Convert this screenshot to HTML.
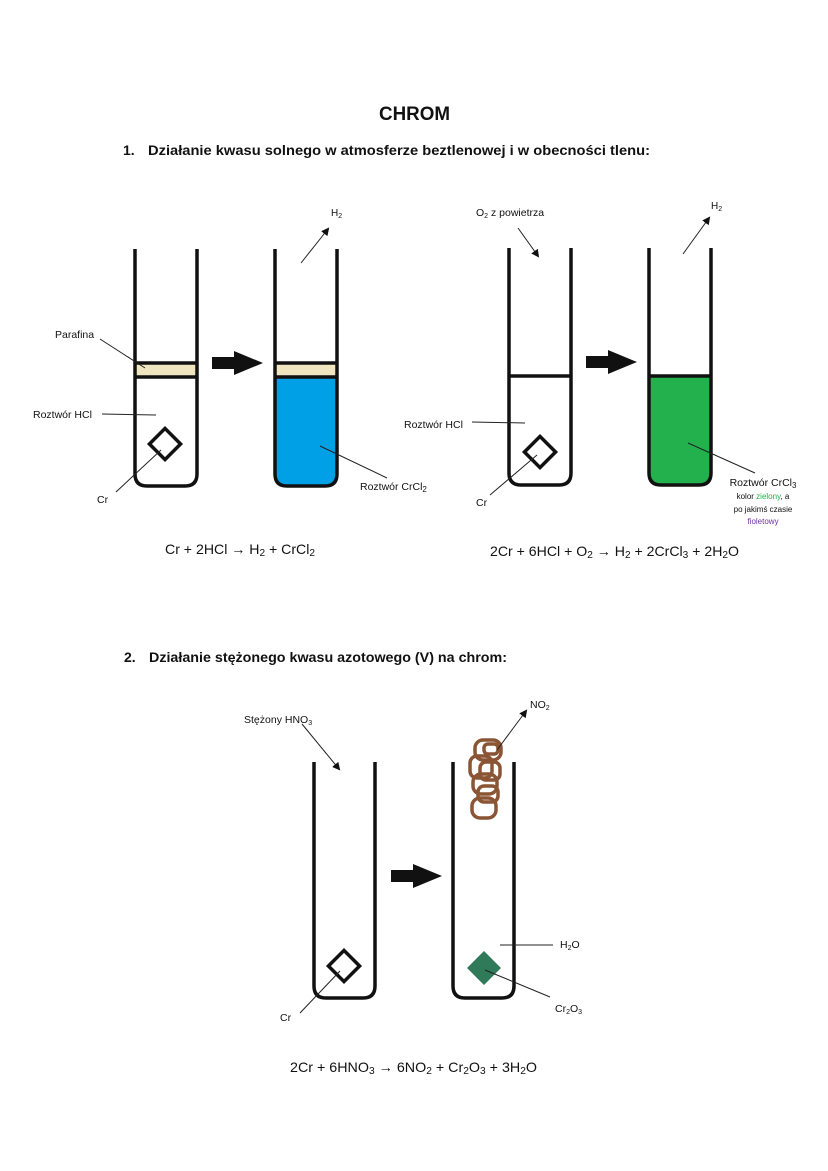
<!DOCTYPE html>
<html><head><meta charset="utf-8"><style>
html,body{margin:0;padding:0;background:#fff}
svg{display:block}
text{font-family:"Liberation Sans",sans-serif;fill:#111}
</style></head><body>
<svg width="828" height="1171" viewBox="0 0 828 1171" xmlns="http://www.w3.org/2000/svg">
<defs>
<marker id="ah" markerWidth="8" markerHeight="8" refX="6" refY="4" orient="auto" markerUnits="userSpaceOnUse">
<path d="M0,0 L8,4 L0,8 z" fill="#111"/></marker>
</defs>
<rect width="828" height="1171" fill="#fff"/>

<text x="379" y="120" font-size="19" font-weight="bold" textLength="71" lengthAdjust="spacingAndGlyphs">CHROM</text>
<text x="123" y="155" font-size="14" font-weight="bold">1.</text>
<text x="148" y="155" font-size="14" font-weight="bold" textLength="502" lengthAdjust="spacingAndGlyphs">Działanie kwasu solnego w atmosferze beztlenowej i w obecności tlenu:</text>

<!-- Tube 1 -->
<path d="M274,378 L336,378 L336,476 Q336,486 326,486 L284,486 Q274,486 274,476 Z" fill="#00a0e6"/>
<rect x="136" y="363" width="60" height="14" fill="#efe6c0"/>
<rect x="276" y="363" width="60" height="14" fill="#efe6c0"/>
<g fill="none" stroke="#111" stroke-width="3.5">
<path d="M135,249 L135,474 Q135,486 147,486 L185,486 Q197,486 197,474 L197,249"/>
<line x1="135" y1="363" x2="197" y2="363"/><line x1="135" y1="377" x2="197" y2="377"/>
<rect x="154" y="433" width="22" height="22" transform="rotate(45 165 444)"/>
<path d="M275,249 L275,474 Q275,486 287,486 L325,486 Q337,486 337,474 L337,249"/>
<line x1="275" y1="363" x2="337" y2="363"/><line x1="275" y1="377" x2="337" y2="377"/>
</g>
<path d="M212,357 L234,357 L234,351 L263,363 L234,375 L234,369 L212,369 Z" fill="#111"/>
<g stroke="#222" stroke-width="1" fill="none">
<line x1="301" y1="263" x2="328" y2="229" marker-end="url(#ah)"/>
<line x1="100" y1="339" x2="145" y2="368"/>
<line x1="102" y1="414" x2="156" y2="415"/>
<line x1="116" y1="492" x2="161" y2="450"/>
<line x1="320" y1="446" x2="387" y2="478"/>
</g>
<text x="331" y="216" font-size="10">H<tspan font-size="7" dy="2">2</tspan></text>
<text x="55" y="338" font-size="10.5">Parafina</text>
<text x="33" y="418" font-size="10.5">Roztwór HCl</text>
<text x="97" y="503" font-size="10.5">Cr</text>
<text x="360" y="490" font-size="10.5">Roztwór CrCl<tspan font-size="8" dy="2">2</tspan></text>

<!-- Tube 3/4 -->
<path d="M649,376 L711,376 L711,474 Q711,485 700,485 L660,485 Q649,485 649,474 Z" fill="#22b14c"/>
<g fill="none" stroke="#111" stroke-width="3.5">
<path d="M509,248 L509,473 Q509,485 521,485 L559,485 Q571,485 571,473 L571,248"/>
<line x1="509" y1="376" x2="571" y2="376"/>
<rect x="529" y="441" width="22" height="22" transform="rotate(45 540 452)"/>
<path d="M649,248 L649,473 Q649,485 661,485 L699,485 Q711,485 711,473 L711,248"/>
<line x1="649" y1="376" x2="711" y2="376"/>
</g>
<path d="M586,356 L608,356 L608,350 L637,362 L608,374 L608,368 L586,368 Z" fill="#111"/>
<g stroke="#222" stroke-width="1" fill="none">
<line x1="518" y1="228" x2="538" y2="256" marker-end="url(#ah)"/>
<line x1="683" y1="254" x2="709" y2="218" marker-end="url(#ah)"/>
<line x1="472" y1="422" x2="525" y2="423"/>
<line x1="490" y1="495" x2="537" y2="455"/>
<line x1="688" y1="443" x2="755" y2="473"/>
</g>
<text x="476" y="216" font-size="10.5">O<tspan font-size="7" dy="2">2</tspan><tspan dy="-2"> z powietrza</tspan></text>
<text x="711" y="209" font-size="10">H<tspan font-size="7" dy="2">2</tspan></text>
<text x="404" y="428" font-size="10.5">Roztwór HCl</text>
<text x="476" y="506" font-size="10.5">Cr</text>
<text x="763" y="486" font-size="10.5" text-anchor="middle">Roztwór CrCl<tspan font-size="8" dy="2">3</tspan></text>
<text x="763" y="499" font-size="8" text-anchor="middle">kolor <tspan style="fill:#22b14c">zielony</tspan>, a</text>
<text x="763" y="512" font-size="8" text-anchor="middle">po jakimś czasie</text>
<text x="763" y="524" font-size="8" text-anchor="middle" style="fill:#7030a0">fioletowy</text>

<text x="165" y="554" font-size="14" textLength="150" lengthAdjust="spacingAndGlyphs">Cr + 2HCl → H<tspan font-size="10" dy="2">2</tspan><tspan dy="-2"> + CrCl</tspan><tspan font-size="10" dy="2">2</tspan></text>
<text x="490" y="556" font-size="14" textLength="249" lengthAdjust="spacingAndGlyphs">2Cr + 6HCl + O<tspan font-size="10" dy="2">2</tspan><tspan dy="-2"> → H</tspan><tspan font-size="10" dy="2">2</tspan><tspan dy="-2"> + 2CrCl</tspan><tspan font-size="10" dy="2">3</tspan><tspan dy="-2"> + 2H</tspan><tspan font-size="10" dy="2">2</tspan><tspan dy="-2">O</tspan></text>

<text x="124" y="662" font-size="14" font-weight="bold">2.</text>
<text x="149" y="662" font-size="14" font-weight="bold" textLength="358" lengthAdjust="spacingAndGlyphs">Działanie stężonego kwasu azotowego (V) na chrom:</text>

<!-- Tube 5/6 -->
<g fill="none" stroke="#111" stroke-width="3.5">
<path d="M314,762 L314,986 Q314,998 326,998 L363,998 Q375,998 375,986 L375,762"/>
<rect x="333" y="955" width="22" height="22" transform="rotate(45 344 966)"/>
<path d="M453,762 L453,986 Q453,998 465,998 L502,998 Q514,998 514,986 L514,762"/>
</g>
<rect x="472" y="956" width="24" height="24" fill="#2f7a58" transform="rotate(45 484 968)"/>
<path d="M391,870 L413,870 L413,864 L442,876 L413,888 L413,882 L391,882 Z" fill="#111"/>
<g fill="none" stroke="#8a5535" stroke-width="3.5">
<rect x="475" y="740" width="26" height="20" rx="8"/>
<rect x="470" y="756" width="22" height="22" rx="7"/>
<rect x="480" y="762" width="20" height="18" rx="6"/>
<rect x="473" y="774" width="24" height="20" rx="8"/>
<rect x="478" y="786" width="20" height="16" rx="6"/>
<rect x="472" y="798" width="24" height="20" rx="8"/>
<rect x="484" y="744" width="14" height="10" rx="4"/>
</g>
<g stroke="#222" stroke-width="1" fill="none">
<line x1="302" y1="724" x2="339" y2="769" marker-end="url(#ah)"/>
<line x1="497" y1="750" x2="526" y2="711" marker-end="url(#ah)"/>
<line x1="500" y1="945" x2="553" y2="945"/>
<line x1="485" y1="970" x2="550" y2="997"/>
<line x1="300" y1="1013" x2="340" y2="971"/>
</g>
<text x="244" y="723" font-size="10.5">Stężony HNO<tspan font-size="7" dy="2">3</tspan></text>
<text x="530" y="708" font-size="10.5">NO<tspan font-size="7" dy="2">2</tspan></text>
<text x="560" y="948" font-size="10.5">H<tspan font-size="7" dy="2">2</tspan><tspan dy="-2">O</tspan></text>
<text x="555" y="1012" font-size="10.5">Cr<tspan font-size="7" dy="2">2</tspan><tspan dy="-2">O</tspan><tspan font-size="7" dy="2">3</tspan></text>
<text x="280" y="1021" font-size="10.5">Cr</text>

<text x="290" y="1072" font-size="14" textLength="247" lengthAdjust="spacingAndGlyphs">2Cr + 6HNO<tspan font-size="10" dy="2">3</tspan><tspan dy="-2"> → 6NO</tspan><tspan font-size="10" dy="2">2</tspan><tspan dy="-2"> + Cr</tspan><tspan font-size="10" dy="2">2</tspan><tspan dy="-2">O</tspan><tspan font-size="10" dy="2">3</tspan><tspan dy="-2"> + 3H</tspan><tspan font-size="10" dy="2">2</tspan><tspan dy="-2">O</tspan></text>
</svg>
</body></html>
